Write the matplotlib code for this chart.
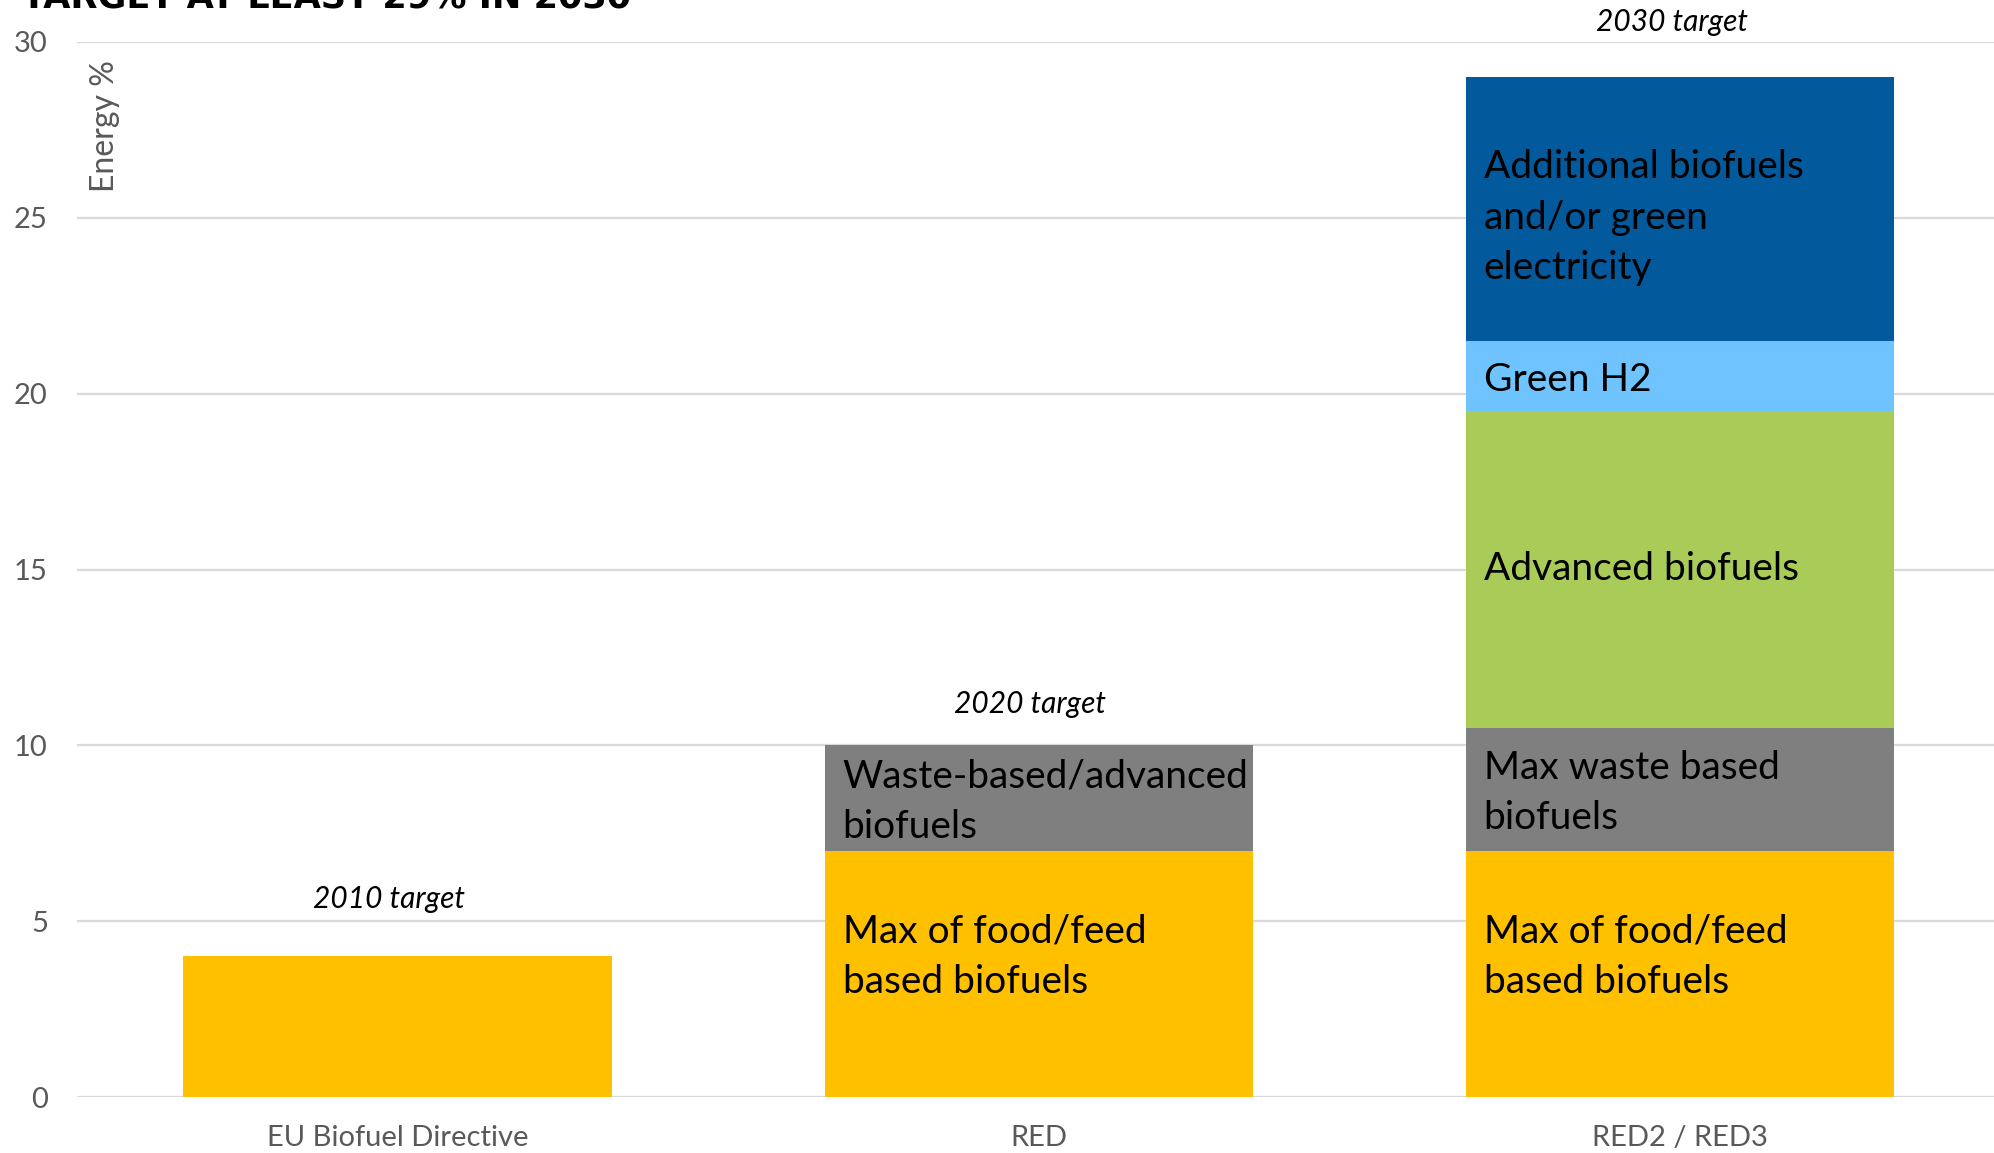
import matplotlib
matplotlib.use("Agg")
import matplotlib.pyplot as plt
import numpy as np

# ---- data -------------------------------------------------------------
categories = ["EU Biofuel Directive", "RED", "RED2 / RED3"]
food_feed = [4, 7, 7]
waste_based = [0, 3, 3.5]
advanced = [0, 0, 9]
green_h2 = [0, 0, 2]
additional = [0, 0, 7.5]
target_labels = ["2010 target", "2020 target", "2030 target"]
y_ticks = [0, 5, 10, 15, 20, 25, 30]

series = [food_feed, waste_based, advanced, green_h2, additional]
colors = ["#FFC000", "#7F7F7F", "#A9CB57", "#6FC3FE", "#02599C"]

# text shown inside each segment (None = no label)
segment_text = [
    [None, "Max of food/feed\nbased biofuels", "Max of food/feed\nbased biofuels"],
    [None, "Waste-based/advanced\nbiofuels", "Max waste based\nbiofuels"],
    [None, None, "Advanced biofuels"],
    [None, None, "Green H2"],
    [None, None, "Additional biofuels\nand/or green\nelectricity"],
]
# small vertical nudges (data units) for the segment labels
segment_nudge = [0.5, -0.1, 0.0, -0.1, -0.25]
# offset (points) of the target caption above each bar
target_offset = [41, 30, 40]

W, H, DPI = 1994, 1153, 100
fig = plt.figure(figsize=(W / DPI, H / DPI), dpi=DPI)
ax = fig.add_axes([77 / W, 1 - 1097 / H, 1 - 77 / W, (1097 - 42) / H])

x = np.arange(len(categories))
bar_w = 0.668
bottom = np.zeros(len(categories))
for vals, col, texts, dy in zip(series, colors, segment_text, segment_nudge):
    vals = np.asarray(vals, dtype=float)
    ax.bar(x, vals, bar_w, bottom=bottom, color=col, zorder=2, linewidth=0)
    for i, t in enumerate(texts):
        if t and vals[i] > 0:
            ax.text(x[i] - bar_w / 2 + 0.028, bottom[i] + vals[i] / 2 + dy, t,
                    ha="left", va="center", fontsize=28, family="Lato",
                    color="black", linespacing=1.5, zorder=3)
    bottom += vals

for i, lab in enumerate(target_labels):
    ax.annotate(lab, (x[i], bottom[i]), xytext=(-6, target_offset[i]),
                textcoords="offset points", ha="center", va="center",
                fontsize=21.5, family="Lato", style="italic", color="black")

ax.set_xlim(-0.5, 2.49)
ax.set_ylim(0, 30)
ax.set_yticks(y_ticks)
ax.set_xticks(x)
ax.set_xticklabels(categories)
ax.tick_params(axis="both", length=0, labelsize=21, labelcolor="#595959")
ax.tick_params(axis="y", pad=21)
ax.tick_params(axis="x", pad=20)
for lbl in ax.get_xticklabels() + ax.get_yticklabels():
    lbl.set_family("Lato")
ax.grid(axis="y", color="#D9D9D9", linewidth=1.6, zorder=0)
ax.set_axisbelow(True)
for s in ax.spines.values():
    s.set_visible(False)

fig.text(105 / W, 1 - 60 / H, "Energy %", rotation=90, ha="center", va="top",
         fontsize=23, family="Lato", color="#595959")

title = fig.text(22 / W, 1 - 8 / H, "TARGET AT LEAST 29% IN 2030", ha="left",
                 va="baseline", fontsize=30, family="DejaVu Sans",
                 weight="bold", color="black")
# size the heading to its intended width
renderer = fig.canvas.get_renderer()
ext = title.get_window_extent(renderer)
title.set_fontsize(30 * 610 / ext.width)

fig.savefig("out.png", dpi=DPI)
